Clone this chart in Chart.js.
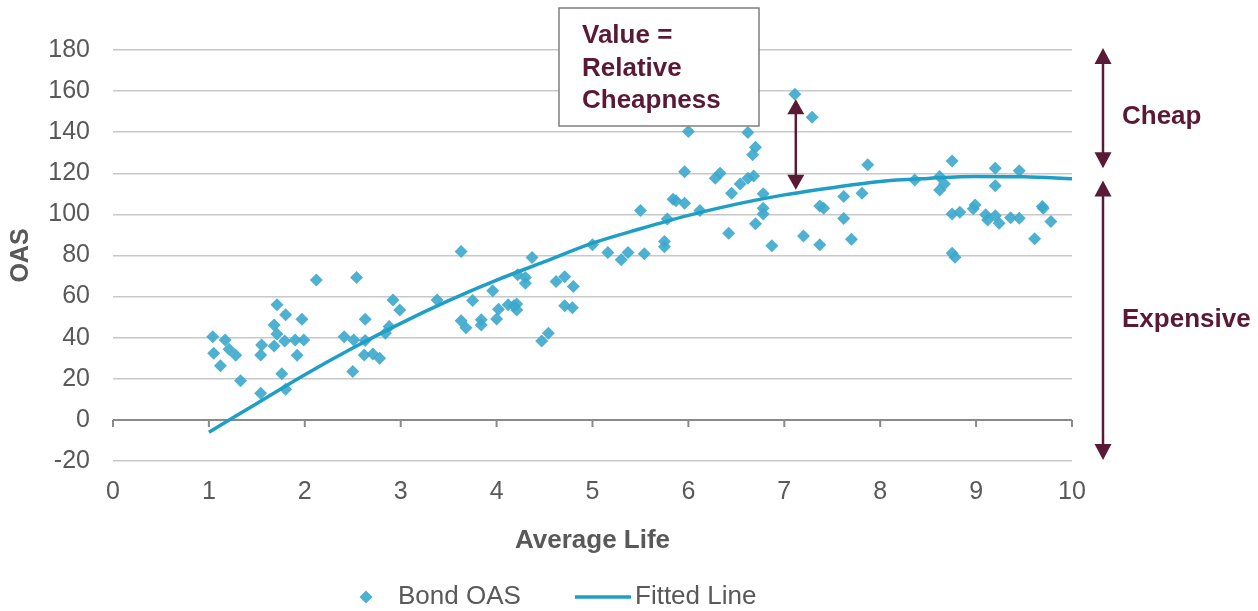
<!DOCTYPE html>
<html>
<head>
<meta charset="utf-8">
<script src="https://cdn.jsdelivr.net/npm/chart.js@4.4.1/dist/chart.umd.min.js"></script>
<style>
  html, body { margin: 0; padding: 0; background: #fff; }
</style>
</head>
<body>
<canvas id="myChart" width="1258" height="611"></canvas>
<script>
// Bond OAS scatter
const bondX = [1.04, 1.05, 1.12, 1.17, 1.21, 1.28, 1.33, 1.54, 1.55, 1.54, 1.68, 1.71, 1.71, 1.68, 1.80, 1.79, 1.76, 1.80, 1.90, 1.97, 1.99, 1.92,
  2.12, 2.41, 2.50, 2.51, 2.54, 2.62, 2.63, 2.63, 2.71, 2.78, 2.84, 2.88, 2.92, 2.99,
  3.38, 3.63, 3.63, 3.68, 3.75, 3.84, 3.84, 3.96, 4.00, 4.02, 4.12, 4.18, 4.21, 4.21, 4.22, 4.30, 4.30, 4.37, 4.47, 4.54, 4.62, 4.71, 4.71, 4.79, 4.80,
  5.00, 5.16, 5.30, 5.37, 5.50, 5.54, 5.75, 5.75, 5.78, 5.84, 5.87, 5.96, 5.96, 6.00, 6.12, 6.28, 6.33, 6.42, 6.45, 6.54, 6.62, 6.62, 6.67, 6.68, 6.70, 6.70, 6.78, 6.78, 6.78, 6.87,
  7.11, 7.20, 7.29, 7.37, 7.41, 7.37, 7.62, 7.62, 7.70, 7.81, 7.87,
  8.36, 8.62, 8.62, 8.67, 8.75, 8.75, 8.75, 8.78, 8.83, 8.97, 8.99, 9.10, 9.12, 9.20, 9.20, 9.20, 9.24, 9.36, 9.45, 9.45, 9.61, 9.69, 9.70, 9.78];
const bondY = [40.5, 32.4, 26.3, 38.9, 34.4, 31.5, 19.1, 13, 36.5, 31.6, 46.2, 56, 41.8, 36, 51.2, 38.4, 22.4, 14.9, 38.9, 49, 38.9, 31.5,
  68.1, 40.5, 23.5, 38.9, 69.3, 31.6, 38.6, 49, 32.1, 30, 42.2, 45.4, 58.4, 53.5,
  58.4, 81.9, 48.2, 44.9, 58.1, 48.7, 46.2, 62.8, 49.1, 53.9, 56, 55.5, 56.4, 53.5, 70.6, 69.3, 66.5, 79, 38.4, 42.2, 67.3, 69.7, 55.5, 54.6, 64.9,
  85.2, 81.4, 77.9, 81.4, 101.9, 80.8, 86.8, 84.3, 97.8, 107.4, 106.7, 105.4, 120.8, 140.3, 101.9, 117.6, 120, 90.8, 110.3, 114.8, 117.6, 139.8, 129, 118.7, 132.7, 95.4, 110, 103, 100.2, 84.8,
  158.5, 89.5, 147.3, 104.1, 103, 85.2, 108.7, 98, 87.9, 110.3, 124.2,
  116.8, 118.4, 111.9, 114.8, 126, 100.2, 81.1, 79.2, 101, 102.7, 104.6, 99.8, 97.3, 99.3, 122.5, 113.9, 95.7, 98.4, 98.1, 121.3, 88.2, 103.8, 103, 96.5];

// fitted curve, read at half-year steps
const fitX = [1, 1.5, 2, 2.5, 3, 3.5, 4, 4.5, 5, 5.5, 6, 6.5, 7, 7.5, 8, 8.5, 9, 9.5, 10];
const fitY = [-6, 8, 22, 35, 47, 58, 68, 77, 86, 93, 99.5, 105, 109.5, 113, 116, 117.5, 118.5, 118.3, 117.3];

const seriesNames = ['Bond OAS', 'Fitted Line'];

const POINT_COLOR = 'rgba(60, 168, 204, 0.9)';
const LINE_COLOR = '#1f9fc6';
const MAROON = '#5a1a36';
const TEXT_GREY = '#595959';
const FONT = "'Liberation Sans', Arial, sans-serif";

function toPoints(xs, ys) {
  return xs.map((v, i) => ({x: v, y: ys[i]}));
}

function vArrow(ctx, x, yTop, yBottom, headW, headL) {
  ctx.beginPath();
  ctx.moveTo(x, yTop + headL - 1);
  ctx.lineTo(x, yBottom - headL + 1);
  ctx.stroke();
  ctx.beginPath();
  ctx.moveTo(x, yTop);
  ctx.lineTo(x - headW / 2, yTop + headL);
  ctx.lineTo(x + headW / 2, yTop + headL);
  ctx.closePath();
  ctx.fill();
  ctx.beginPath();
  ctx.moveTo(x, yBottom);
  ctx.lineTo(x - headW / 2, yBottom - headL);
  ctx.lineTo(x + headW / 2, yBottom - headL);
  ctx.closePath();
  ctx.fill();
}

const overlay = {
  id: 'overlay',
  beforeDatasetsDraw(chart) {
    // x axis line sits at OAS = 0, ticks hanging down
    const {ctx, chartArea, scales: {x, y}} = chart;
    const y0 = y.getPixelForValue(0);
    ctx.save();
    ctx.strokeStyle = '#8a8a8a';
    ctx.lineWidth = 2;
    ctx.beginPath();
    ctx.moveTo(chartArea.left, y0);
    ctx.lineTo(chartArea.right, y0);
    for (let v = 0; v <= 10; v++) {
      const px = x.getPixelForValue(v);
      ctx.moveTo(px, y0);
      ctx.lineTo(px, y0 + 7);
    }
    ctx.stroke();
    ctx.restore();
  },
  afterDraw(chart) {
    const {ctx, chartArea, scales: {x, y}} = chart;
    ctx.save();

    // callout box
    ctx.fillStyle = '#fff';
    ctx.fillRect(559, 8, 200, 118);
    ctx.strokeStyle = '#7f7f7f';
    ctx.lineWidth = 1.5;
    ctx.strokeRect(559, 8, 200, 118);
    ctx.fillStyle = MAROON;
    ctx.font = 'bold 26px ' + FONT;
    ctx.textAlign = 'left';
    ctx.textBaseline = 'middle';
    ctx.fillText('Value =', 582, 36);
    ctx.fillText('Relative', 582, 69);
    ctx.fillText('Cheapness', 582, 101);

    // arrows
    ctx.strokeStyle = MAROON;
    ctx.lineWidth = 2.5;
    vArrow(ctx, x.getPixelForValue(7.12), y.getPixelForValue(156), y.getPixelForValue(112), 17, 15);
    const ax = chartArea.right + 31;
    vArrow(ctx, ax, y.getPixelForValue(181), y.getPixelForValue(122.5), 17, 16);
    vArrow(ctx, ax, y.getPixelForValue(116.5), y.getPixelForValue(-19.5), 17, 16);

    ctx.fillStyle = MAROON;
    ctx.fillText('Cheap', ax + 19, 117);
    ctx.fillText('Expensive', ax + 19, 320);

    // legend
    const ly = 597;
    ctx.fillStyle = POINT_COLOR;
    ctx.beginPath();
    ctx.moveTo(366, ly - 6.5);
    ctx.lineTo(372.5, ly);
    ctx.lineTo(366, ly + 6.5);
    ctx.lineTo(359.5, ly);
    ctx.closePath();
    ctx.fill();
    ctx.strokeStyle = LINE_COLOR;
    ctx.lineWidth = 3.5;
    ctx.beginPath();
    ctx.moveTo(575, ly);
    ctx.lineTo(631, ly);
    ctx.stroke();
    ctx.fillStyle = TEXT_GREY;
    ctx.font = '26px ' + FONT;
    ctx.fillText(seriesNames[0], 398, ly);
    ctx.fillText(seriesNames[1], 635, ly);

    ctx.restore();
  }
};

const config = {
  type: 'scatter',
  data: {
    datasets: [
      {
        label: seriesNames[0],
        data: toPoints(bondX, bondY),
        pointStyle: 'rectRot',
        pointRadius: 6.5,
        pointHoverRadius: 6.5,
        backgroundColor: POINT_COLOR,
        borderWidth: 0,
        order: 1
      },
      {
        type: 'line',
        label: seriesNames[1],
        data: toPoints(fitX, fitY),
        borderColor: LINE_COLOR,
        borderWidth: 3.5,
        pointRadius: 0,
        cubicInterpolationMode: 'monotone',
        fill: false,
        order: 0
      }
    ]
  },
  options: {
    responsive: false,
    animation: false,
    layout: {padding: {left: 0, right: 186, top: 50, bottom: 50}},
    plugins: {
      legend: {display: false},
      tooltip: {enabled: false}
    },
    scales: {
      x: {
        type: 'linear',
        min: 0,
        max: 10,
        ticks: {stepSize: 1, color: TEXT_GREY, font: {family: FONT, size: 25}, padding: 16},
        grid: {display: false, drawTicks: false},
        border: {display: false},
        title: {display: true, text: 'Average Life', color: TEXT_GREY, font: {family: FONT, size: 26, weight: 'bold'}, padding: {top: 0, bottom: 5}},
        afterFit(scale) { scale.height = 100; }
      },
      y: {
        min: -20,
        max: 180,
        ticks: {stepSize: 20, color: TEXT_GREY, font: {family: FONT, size: 25}, padding: 23},
        grid: {
          drawTicks: false,
          lineWidth: 1.5,
          color: c => (c.tick && c.tick.value === 0) ? 'rgba(0,0,0,0)' : '#c8c8c8'
        },
        border: {display: false},
        title: {display: true, text: 'OAS', color: TEXT_GREY, font: {family: FONT, size: 25, weight: 'bold'}, padding: {top: 6, bottom: 0}},
        afterFit(scale) { scale.width = 113; }
      }
    }
  },
  plugins: [overlay]
};

const myChart = new Chart(document.getElementById('myChart'), config);
</script>
</body>
</html>
